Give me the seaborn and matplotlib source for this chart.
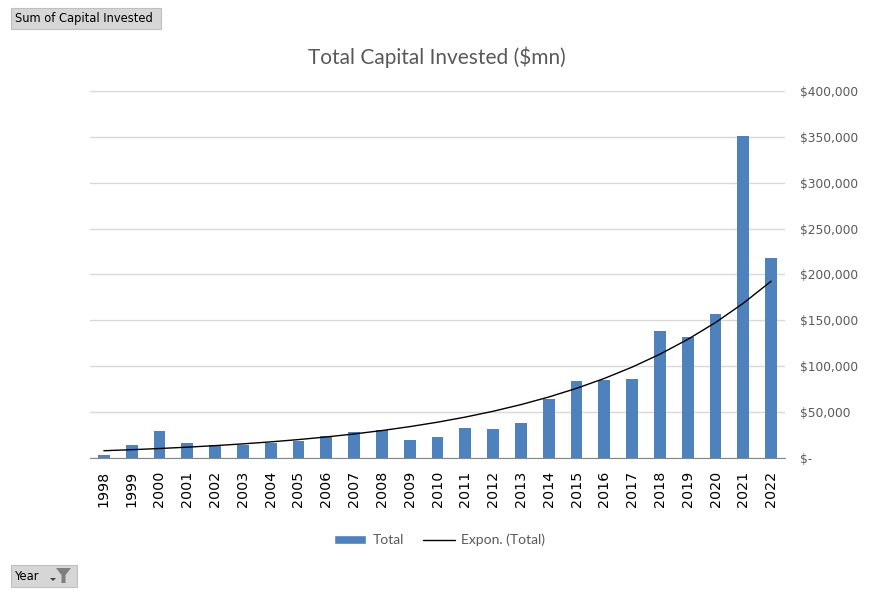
import numpy as np
import pandas as pd
import seaborn as sns
import matplotlib.pyplot as plt
from matplotlib.patches import Polygon, Rectangle, Patch
from matplotlib.lines import Line2D

# ----------------------------Data--------------------
years = [str(y) for y in range(1998, 2023)]
capital = [3600, 14500, 29800, 16700, 14200, 14500, 16700, 18900, 24300, 28700,
           30100, 20000, 23300, 33100, 32000, 38500, 64700, 84300, 85400, 86500,
           138800, 132300, 157400, 351400, 218400]
y_ticks = [0, 50000, 100000, 150000, 200000, 250000, 300000, 350000, 400000]

df = pd.DataFrame({'Year': years, 'Total': capital})

# exponential trendline (least squares on log values, like Excel)
idx = np.arange(len(years))
b, a = np.polyfit(idx + 1, np.log(df['Total']), 1)
trend = np.exp(a) * np.exp(b * (idx + 1))

# ----------------------------Plot--------------------
sns.set_style("white")
plt.rcParams['font.family'] = ['DejaVu Sans']

W, H = 871, 593
fig = plt.figure(figsize=(W / 100, H / 100), dpi=100)
ax = fig.add_axes([0.1033, 0.2277, 0.798, 0.6188])

sns.barplot(data=df, x='Year', y='Total', color='#4F81BD', saturation=1,
            width=0.42, linewidth=0, ax=ax)
ax.plot(idx, trend, color='black', lw=1)

ax.set_xlim(-0.5, len(years) - 0.5)
ax.set_ylim(0, 400000)
ax.set_yticks(y_ticks)
ax.yaxis.tick_right()
ax.set_yticklabels(['$-' if v == 0 else f'${v:,.0f}' for v in y_ticks])
ax.tick_params(axis='y', length=0, pad=11, labelsize=8.8, labelcolor='#595959')
for lbl in ax.get_yticklabels():
    lbl.set_horizontalalignment('left')
ax.grid(axis='y', color='#D9D9D9', lw=1)
ax.set_axisbelow(True)

ax.set_xticks(idx)
ax.set_xticklabels(years, rotation=90)
ax.set_xticks(np.arange(-0.5, len(years)), minor=True)
ax.tick_params(axis='x', which='major', length=0, pad=9, labelsize=10.3, labelcolor='black')
ax.tick_params(axis='x', which='minor', length=5, color='#868686', width=1)
ax.set_xlabel('')
ax.set_ylabel('')
for s in ['top', 'left', 'right']:
    ax.spines[s].set_visible(False)
ax.spines['bottom'].set_color('#868686')

fig.text(0.502, 0.903, 'Total Capital Invested ($mn)', ha='center', va='center',
         fontsize=15, color='#595959', family='Lato')

handles = [Patch(facecolor='#4F81BD', label='Total'),
           Line2D([0], [0], color='black', lw=1, label='Expon. (Total)')]
fig.legend(handles=handles, loc='center', bbox_to_anchor=(0.505, 0.089), ncol=2,
           frameon=False, handlelength=2.3, handleheight=0.6,
           columnspacing=1.4, handletextpad=0.45, labelcolor='#595959',
           prop={'family': 'Lato', 'size': 10})


# pivot field buttons (pixel boxes from the top-left corner)
def button(x0, y0, x1, y1):
    r = Rectangle((x0 / W, 1 - y1 / H), (x1 - x0) / W, (y1 - y0) / H,
                  transform=fig.transFigure, fc='#D6D6D6', ec='#BFBFBF', lw=0.8)
    fig.add_artist(r)


button(11, 8, 161, 29)
fig.text(15 / W, 1 - 18.5 / H, 'Sum of Capital Invested', ha='left', va='center',
         fontsize=8.3, color='black')
button(11, 565, 77, 587)
fig.text(15 / W, 1 - 576.5 / H, 'Year', ha='left', va='center', fontsize=8.3, color='black')
funnel_px = [(56, 568), (71, 568), (65.5, 575), (65.5, 583), (61.5, 583), (61.5, 575)]
fig.add_artist(Polygon([(x / W, 1 - y / H) for x, y in funnel_px], closed=True,
                       transform=fig.transFigure, fc='#7F7F7F', ec='none', zorder=5))
arrow_px = [(50, 578), (56, 578), (53, 581)]
fig.add_artist(Polygon([(x / W, 1 - y / H) for x, y in arrow_px], closed=True,
                       transform=fig.transFigure, fc='#404040', ec='none', zorder=5))

fig.savefig('out.png', dpi=100)
